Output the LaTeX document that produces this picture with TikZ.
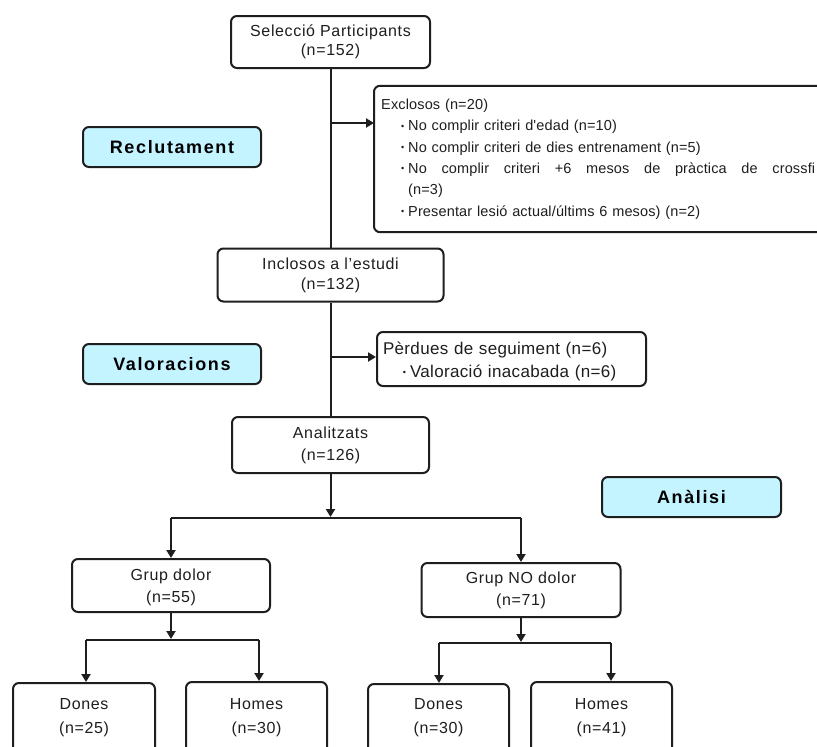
\documentclass[tikz,border=0pt]{standalone}
\usepackage{fontspec}
\newfontfamily\bodyfont{Liberation Sans}[LetterSpace=4]
\newfontfamily\listfont{Liberation Sans}[LetterSpace=1]
\newfontfamily\perdfont{Liberation Sans}[LetterSpace=2]
\newfontfamily\labfont{Liberation Sans}[LetterSpace=9]
\usetikzlibrary{arrows.meta}
\definecolor{labcyan}{RGB}{196,244,255}
\definecolor{ink}{RGB}{30,30,30}
\newcommand{\bul}{\makebox[27pt][r]{\raisebox{1.5pt}{\fontsize{9}{9}\selectfont\textbullet}\hspace{4pt}}}
\begin{document}
\begin{tikzpicture}[x=1pt,y=-1pt,
 box/.style={draw=ink, line width=2pt, rounded corners=6pt, inner sep=0pt, align=center, text=ink, font=\bodyfont\fontsize{16}{20}\selectfont},
 labbox/.style={draw=ink, line width=2pt, rounded corners=6pt, fill=labcyan, inner sep=0pt, minimum width=178pt, minimum height=40pt, text=black, font=\labfont\bfseries\fontsize{18}{20}\selectfont},
 listbox/.style={inner ysep=0pt, align=left, text=ink, anchor=west},
 txt/.style={inner sep=0pt, align=center, text=ink, font=\bodyfont\fontsize{16}{24}\selectfont},
 conn/.style={draw=ink, line width=2pt},
 arr/.style={conn, -{Triangle[length=8pt,width=9pt]}},
]
\fill[white] (0,0) rectangle (817,747);
\useasboundingbox (0,0) rectangle (817,747);

% main column
\node[box, minimum width=199pt, minimum height=52pt, font=\bodyfont\fontsize{16}{19}\selectfont] (sel) at (330.5,42) {Selecció Participants\\(n=152)};
\node[box, minimum width=226pt, minimum height=53pt] (incl) at (330.5,275) {Inclosos a l’estudi\\(n=132)};
\node[box, minimum width=197pt, minimum height=56pt, font=\bodyfont\fontsize{16}{22}\selectfont] (anal) at (330.5,445) {Analitzats\\(n=126)};

% side boxes (right side runs past the picture's edge)
\node[listbox, minimum width=443pt, minimum height=146pt, inner xsep=7pt, text width=429pt, font=\listfont\fontsize{14.5}{21.4}\selectfont] (excl) at (374,159) {Exclosos (n=20)\\
\bul No complir criteri d'edad (n=10)\\
\bul No complir criteri de dies entrenament (n=5)\\
\bul\hbox to 407pt{No\hfill complir\hfill criteri\hfill +6\hfill mesos\hfill de\hfill pràctica\hfill de\hfill crossfi}\\
\hspace*{27pt}(n=3)\\
\bul Presentar lesió actual/últims 6 mesos) (n=2)};
\draw[conn, rounded corners=6pt] (excl.north east) -- (excl.north west) -- (excl.south west) -- (excl.south east);
\node[listbox, draw=ink, line width=2pt, rounded corners=6pt, minimum width=269pt, minimum height=54pt, inner xsep=6pt, text width=257pt, font=\perdfont\fontsize{17}{23}\selectfont] (perd) at (376,359) {\rule{0pt}{17pt}Pèrdues de seguiment (n=6)\\
\bul Valoració inacabada (n=6)};

% phase labels
\node[labbox] (recl) at (172,147) {Reclutament};
\node[labbox] (valo) at (172,364) {Valoracions};
\node[labbox, minimum width=179pt] (anali) at (691.5,497) {Anàlisi};

% groups
\node[box, minimum width=198pt, minimum height=53pt, font=\bodyfont\fontsize{16}{22}\selectfont] (gd) at (171,585.5) {\rule{0pt}{16pt}Grup dolor\\(n=55)};
\node[box, minimum width=199pt, minimum height=54pt, font=\bodyfont\fontsize{16}{22}\selectfont] (gnd) at (521,590) {Grup NO dolor\\(n=71)};

% bottom boxes
\node[box, anchor=north, minimum width=142pt, minimum height=80pt] (d1) at (84,682) {};
\node[txt] (d1t) at (84,718) {Dones\\(n=25)};
\node[box, anchor=north, minimum width=141pt, minimum height=80pt] (h1) at (256.5,681) {};
\node[txt] (h1t) at (256.5,718) {Homes\\(n=30)};
\node[box, anchor=north, minimum width=141pt, minimum height=80pt] (d2) at (438.5,683) {};
\node[txt] (d2t) at (438.5,718) {Dones\\(n=30)};
\node[box, anchor=north, minimum width=141pt, minimum height=80pt] (h2) at (601.5,681) {};
\node[txt] (h2t) at (601.5,717.5) {Homes\\(n=41)};

% connectors
\coordinate (b1) at (330.5,123);
\coordinate (b2) at (330.5,357);
\draw[conn] (sel.south) -- (incl.north);
\draw[arr] (b1) -- (b1 -| excl.west);
\draw[conn] (incl.south) -- (anal.north);
\draw[arr] (b2) -- (b2 -| perd.west);

\coordinate (j1) at (330.5,517);
\coordinate (j1l) at (171,518);
\coordinate (j1r) at (521,518);
\draw[arr] (anal.south) -- (j1);
\draw[conn] (j1l) -- (j1r);
\draw[arr] (j1l) -- (j1l |- gd.north);
\draw[arr] (j1r) -- (j1r |- gnd.north);

\coordinate (k1) at (171,639);
\coordinate (k1l) at (86,640);
\coordinate (k1r) at (259,640);
\draw[arr] (gd.south) -- (k1);
\draw[conn] (k1l) -- (k1r);
\draw[arr] (k1l) -- (k1l |- d1.north);
\draw[arr] (k1r) -- (k1r |- h1.north);

\coordinate (k2) at (521,642);
\coordinate (k2l) at (439,643);
\coordinate (k2r) at (611,643);
\draw[arr] (gnd.south) -- (k2);
\draw[conn] (k2l) -- (k2r);
\draw[arr] (k2l) -- (k2l |- d2.north);
\draw[arr] (k2r) -- (k2r |- h2.north);
\end{tikzpicture}
\end{document}
